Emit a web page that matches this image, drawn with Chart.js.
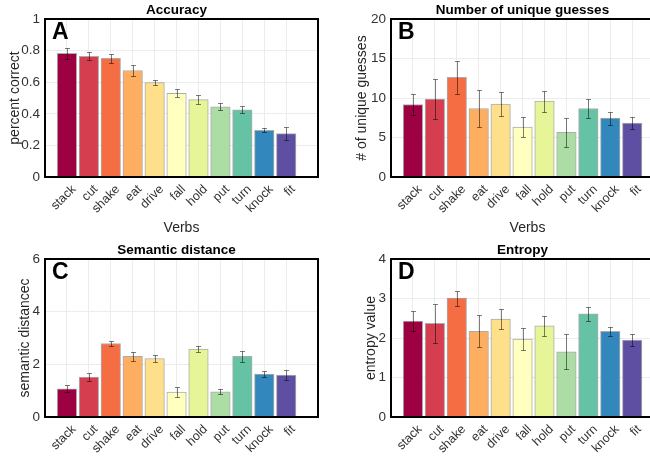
<!DOCTYPE html>
<html>
<head>
<meta charset="utf-8">
<script src="https://cdn.jsdelivr.net/npm/chart.js@4"></script>
<style>
  html, body { margin: 0; padding: 0; width: 650px; height: 456px; overflow: hidden; background: #fff; }
  .panel { position: absolute; }
</style>
</head>
<body>
<div class="panel" style="left:0;top:0"><canvas id="chartA" width="330" height="240"></canvas></div>
<div class="panel" style="left:325px;top:0"><canvas id="chartB" width="349" height="240"></canvas></div>
<div class="panel" style="left:0;top:240px"><canvas id="chartC" width="330" height="240"></canvas></div>
<div class="panel" style="left:325px;top:240px"><canvas id="chartD" width="349" height="240"></canvas></div>
<script>
// Verbs and their colours (Spectral palette)
const verbs = ['stack', 'cut', 'shake', 'eat', 'drive', 'fall', 'hold', 'put', 'turn', 'knock', 'fit'];
const barColors = ['#9e0142', '#d53e4f', '#f46d43', '#fdae61', '#fee08b', '#ffffbf',
                   '#e6f598', '#abdda4', '#66c2a5', '#3288bd', '#5e4fa2'];

// Panel A - accuracy
const accuracy = [0.782, 0.763, 0.751, 0.674, 0.598, 0.529, 0.490, 0.444, 0.425, 0.296, 0.275];
const accuracyErr = [0.037, 0.025, 0.030, 0.032, 0.016, 0.025, 0.026, 0.023, 0.022, 0.014, 0.040];

// Panel B - number of unique guesses
const uniqueGuesses = [9.18, 9.85, 12.63, 8.67, 9.22, 6.32, 9.60, 5.64, 8.67, 7.45, 6.82];
const uniqueErr = [1.28, 2.5, 2.1, 2.34, 1.54, 1.24, 1.33, 1.87, 1.2, 0.82, 0.8];

// Panel C - semantic distance
const semDistance = [1.07, 1.52, 2.79, 2.30, 2.22, 0.95, 2.58, 0.96, 2.30, 1.63, 1.59];
const semDistanceErr = [0.13, 0.14, 0.10, 0.16, 0.12, 0.19, 0.13, 0.10, 0.20, 0.11, 0.18];

// Panel D - entropy
const entropy = [2.43, 2.37, 3.01, 2.17, 2.48, 1.97, 2.31, 1.65, 2.61, 2.17, 1.95];
const entropyErr = [0.25, 0.49, 0.19, 0.40, 0.26, 0.28, 0.25, 0.44, 0.17, 0.12, 0.15];

// y axis ranges: min, max, step
const accTicks = [0, 1, 0.2];
const uniqueTicks = [0, 20, 5];
const semTicks = [0, 6, 2];
const entropyTicks = [0, 4, 1];

const FONT = "'Liberation Sans', Arial, sans-serif";

// Error bars, panel title, letter and the box round the axes
const panelDecor = {
  id: 'panelDecor',
  afterDatasetsDraw(chart, args, opts) {
    const ctx = chart.ctx;
    const meta = chart.getDatasetMeta(0);
    const yScale = chart.scales.y;
    ctx.save();
    ctx.strokeStyle = 'rgba(0,0,0,0.5)';
    ctx.lineWidth = 1;
    meta.data.forEach((bar, i) => {
      const v = opts.values[i];
      const e = opts.errors[i];
      const yTop = Math.round(yScale.getPixelForValue(v + e)) + 0.5;
      const yBot = Math.round(yScale.getPixelForValue(v - e)) + 0.5;
      const x = Math.round(bar.x) + 0.5;
      ctx.beginPath();
      ctx.moveTo(x, yTop); ctx.lineTo(x, yBot);
      ctx.moveTo(x - 2.5, yTop); ctx.lineTo(x + 2.5, yTop);
      ctx.moveTo(x - 2.5, yBot); ctx.lineTo(x + 2.5, yBot);
      ctx.stroke();
    });
    ctx.restore();
  },
  afterDraw(chart, args, opts) {
    const ctx = chart.ctx;
    const area = chart.chartArea;
    ctx.save();
    ctx.strokeStyle = '#000';
    ctx.lineWidth = 2;
    ctx.strokeRect(area.left, area.top, area.right - area.left, area.bottom - area.top);
    ctx.fillStyle = '#000';
    ctx.font = `bold 13.5px ${FONT}`;
    ctx.textAlign = 'center';
    ctx.textBaseline = 'middle';
    ctx.fillText(opts.title, (area.left + area.right) / 2 - 5, 10);
    ctx.font = `bold 23px ${FONT}`;
    ctx.textAlign = 'left';
    ctx.textBaseline = 'alphabetic';
    ctx.fillText(opts.letter, area.left + 7, area.top + 20);
    ctx.restore();
  }
};

function makeChart(id, cfg) {
  const [yMin, yMax, yStep] = cfg.ticks;
  return new Chart(document.getElementById(id), {
    type: 'bar',
    data: {
      datasets: [{
        data: cfg.values.map((v, i) => ({ x: i + 1, y: v })),
        backgroundColor: barColors,
        borderColor: 'rgba(70,70,70,0.45)',
        borderWidth: 1,
        barThickness: 19.5
      }]
    },
    plugins: [panelDecor],
    options: {
      responsive: false,
      animation: false,
      layout: { padding: { top: 19, right: cfg.padRight, bottom: 0, left: 0 } },
      plugins: {
        legend: { display: false },
        tooltip: { enabled: false },
        panelDecor: { values: cfg.values, errors: cfg.errors, title: cfg.title, letter: cfg.letter }
      },
      scales: {
        x: {
          type: 'linear',
          min: 0,
          max: 12.45,
          offset: false,
          afterBuildTicks: (axis) => { axis.ticks = verbs.map((v, i) => ({ value: i + 1 })); },
          afterFit: (scale) => { scale.height = 63; },
          grid: { color: '#ececec', drawTicks: false, offset: false },
          border: { display: false },
          ticks: {
            autoSkip: false,
            maxRotation: 45,
            minRotation: 45,
            padding: 5,
            labelOffset: 7,
            color: '#333',
            font: { family: FONT, size: 12.5 },
            callback: (value) => verbs[value - 1] || ''
          },
          title: {
            display: true,
            text: 'Verbs',
            color: '#262626',
            font: { family: FONT, size: 14 },
            padding: { top: 0, bottom: 3 }
          }
        },
        y: {
          min: yMin,
          max: yMax,
          afterFit: (scale) => { scale.width = cfg.yWidth; },
          grid: { color: '#ececec', drawTicks: false },
          border: { display: false },
          ticks: {
            stepSize: yStep,
            padding: 5,
            color: '#333',
            font: { family: FONT, size: 13.5 },
            callback: (value) => String(+value.toFixed(2))
          },
          title: {
            display: true,
            text: cfg.yTitle,
            color: '#262626',
            font: { family: FONT, size: 14 },
            padding: { top: cfg.yTitlePad, bottom: 0 }
          }
        }
      }
    }
  });
}

makeChart('chartA', {
  values: accuracy, errors: accuracyErr, ticks: accTicks,
  title: 'Accuracy', letter: 'A', yTitle: 'percent correct',
  yWidth: 45, yTitlePad: 7, padRight: 12
});
makeChart('chartB', {
  values: uniqueGuesses, errors: uniqueErr, ticks: uniqueTicks,
  title: 'Number of unique guesses', letter: 'B', yTitle: '# of unique guesses',
  yWidth: 66, yTitlePad: 29, padRight: 10
});
makeChart('chartC', {
  values: semDistance, errors: semDistanceErr, ticks: semTicks,
  title: 'Semantic distance', letter: 'C', yTitle: 'semantic distancec',
  yWidth: 45, yTitlePad: 17, padRight: 12
});
makeChart('chartD', {
  values: entropy, errors: entropyErr, ticks: entropyTicks,
  title: 'Entropy', letter: 'D', yTitle: 'entropy value',
  yWidth: 66, yTitlePad: 38, padRight: 10
});
</script>
</body>
</html>
